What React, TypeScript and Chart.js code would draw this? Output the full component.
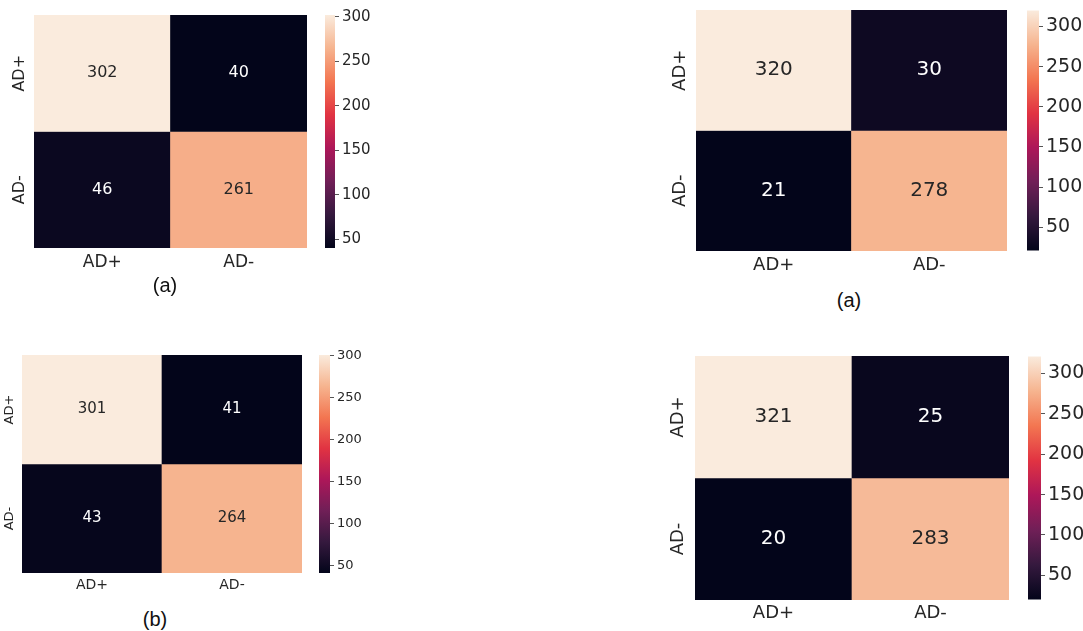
import React, { useEffect, useRef } from 'react';
import { Chart, registerables } from 'chart.js';

Chart.register(...registerables);

// Class names shared by rows (true) and columns (predicted)
const classLabels = ['AD+', 'AD-'];

// Confusion-matrix counts, one per panel: rows = true class, columns = predicted class
const countsTopLeft = [
  [302, 40],
  [46, 261],
];
const countsTopRight = [
  [320, 30],
  [21, 278],
];
const countsBottomLeft = [
  [301, 41],
  [43, 264],
];
const countsBottomRight = [
  [321, 25],
  [20, 283],
];

// Colour-bar tick values
const colorbarTicks = [50, 100, 150, 200, 250, 300];

// Panel captions
const captionTopLeft = '(a)';
const captionTopRight = '(a)';
const captionBottomLeft = '(b)';

const FONT = '"DejaVu Sans", "Noto Sans", sans-serif';
const TEXT_DARK = '#262626';
const PAGE_W = 1083;

// Anchor colours of the "rocket" sequential colormap (position, r, g, b)
const rocketStops: [number, number, number, number][] = [
  [0, 3, 5, 26],
  [1 / 7, 53, 25, 62],
  [2 / 7, 112, 31, 87],
  [3 / 7, 173, 23, 89],
  [4 / 7, 225, 51, 66],
  [5 / 7, 243, 118, 81],
  [6 / 7, 246, 180, 143],
  [1, 250, 235, 221],
];

function rocketRgb(t: number): [number, number, number] {
  const v = Math.max(0, Math.min(1, t));
  for (let i = 1; i < rocketStops.length; i++) {
    const [p1, r1, g1, b1] = rocketStops[i];
    const [p0, r0, g0, b0] = rocketStops[i - 1];
    if (v <= p1) {
      const f = (v - p0) / (p1 - p0);
      return [r0 + (r1 - r0) * f, g0 + (g1 - g0) * f, b0 + (b1 - b0) * f];
    }
  }
  const last = rocketStops[rocketStops.length - 1];
  return [last[1], last[2], last[3]];
}

const toCss = ([r, g, b]: [number, number, number]) =>
  `rgb(${Math.round(r)}, ${Math.round(g)}, ${Math.round(b)})`;

function luminance([r, g, b]: [number, number, number]) {
  const lin = (c: number) => {
    const s = c / 255;
    return s <= 0.03928 ? s / 12.92 : Math.pow((s + 0.055) / 1.055, 2.4);
  };
  return 0.2126 * lin(r) + 0.7152 * lin(g) + 0.0722 * lin(b);
}

type PanelLayout = {
  heat: { l: number; t: number; r: number; b: number };
  cb: { l: number; r: number };
  yLabelGap: number;
  xLabelGap: number;
  tickFont: number;
  yTickFont: number;
  annotFont: number;
  cbFont: number;
};

function HeatmapPanel({ counts, layout }: { counts: number[][]; layout: PanelLayout }) {
  const heatRef = useRef<HTMLCanvasElement>(null);
  const cbRef = useRef<HTMLCanvasElement>(null);

  const { heat, cb } = layout;
  const yAxisW = layout.yLabelGap + layout.yTickFont;
  const xAxisH = layout.xLabelGap + layout.tickFont;
  const heatBox = {
    left: heat.l - yAxisW,
    top: heat.t,
    width: heat.r - heat.l + yAxisW,
    height: heat.b - heat.t + xAxisH,
  };
  const cbPad = 14;
  const cbBox = {
    left: cb.l,
    top: heat.t - cbPad,
    width: Math.min(PAGE_W, cb.l + 62) - cb.l,
    height: heat.b - heat.t + 2 * cbPad,
  };

  useEffect(() => {
    const flat = counts.flat();
    const vmin = Math.min(...flat);
    const vmax = Math.max(...flat);
    const norm = (v: number) => (v - vmin) / (vmax - vmin);

    const datasets = counts.map((row, r) => ({
      label: classLabels[r],
      data: row.map(() => [r, r + 1]),
      backgroundColor: row.map((v) => toCss(rocketRgb(norm(v)))),
      borderWidth: 0,
      barPercentage: 1,
      categoryPercentage: 1,
      grouped: false,
    }));

    const cellText = {
      id: 'cellText',
      afterDatasetsDraw(chart: any) {
        const ctx = chart.ctx as CanvasRenderingContext2D;
        ctx.save();
        ctx.textAlign = 'center';
        ctx.textBaseline = 'middle';
        ctx.font = `${layout.annotFont}px ${FONT}`;
        counts.forEach((row, r) => {
          const meta = chart.getDatasetMeta(r);
          row.forEach((v, c) => {
            const el = meta.data[c] as any;
            const cy = (el.y + el.base) / 2;
            ctx.fillStyle = luminance(rocketRgb(norm(v))) > 0.408 ? TEXT_DARK : '#ffffff';
            ctx.fillText(String(v), el.x, cy);
          });
        });
        // row labels, rotated to read bottom-to-top
        const ys = chart.scales.y;
        ctx.font = `${layout.yTickFont}px ${FONT}`;
        ctx.fillStyle = TEXT_DARK;
        classLabels.forEach((lab, r) => {
          const py = ys.getPixelForValue(r + 0.5);
          ctx.save();
          ctx.translate(chart.chartArea.left - layout.yLabelGap, py);
          ctx.rotate(-Math.PI / 2);
          ctx.fillText(lab, 0, 0);
          ctx.restore();
        });
        ctx.restore();
      },
    };

    const heatChart = new Chart(heatRef.current as HTMLCanvasElement, {
      type: 'bar',
      data: { labels: classLabels, datasets: datasets as any },
      options: {
        animation: false,
        responsive: false,
        maintainAspectRatio: false,
        layout: { padding: 0 },
        plugins: { legend: { display: false }, tooltip: { enabled: false } },
        scales: {
          x: {
            type: 'category',
            offset: true,
            grid: { display: false, drawTicks: false },
            border: { display: false },
            ticks: {
              font: { family: FONT, size: layout.tickFont },
              color: TEXT_DARK,
              padding: layout.xLabelGap - 0.6 * layout.tickFont,
              maxRotation: 0,
            },
            afterFit: (s: any) => {
              s.height = xAxisH;
            },
          },
          y: {
            type: 'linear',
            min: 0,
            max: 2,
            reverse: true,
            grid: { display: false, drawTicks: false },
            border: { display: false },
            ticks: { display: false },
            afterFit: (s: any) => {
              s.width = yAxisW;
            },
          },
        },
      } as any,
      plugins: [cellText],
    });

    const cbWidth = cb.r - cb.l;
    const cbChart = new Chart(cbRef.current as HTMLCanvasElement, {
      type: 'bar',
      data: {
        labels: [''],
        datasets: [
          {
            data: [[vmin, vmax]] as any,
            borderWidth: 0,
            barPercentage: 1,
            categoryPercentage: 1,
            backgroundColor: (c: any) => {
              const chart = c.chart;
              const ys = chart.scales.y;
              const area = chart.chartArea;
              const fallback = toCss(rocketRgb(0.5));
              if (!ys || !area) return fallback;
              const y0 = ys.getPixelForValue(vmin);
              const y1 = ys.getPixelForValue(vmax);
              if (!Number.isFinite(y0) || !Number.isFinite(y1) || y0 === y1) return fallback;
              const g = chart.ctx.createLinearGradient(0, y0, 0, y1);
              rocketStops.forEach(([p, r, gg, b]) => g.addColorStop(p, `rgb(${r}, ${gg}, ${b})`));
              return g;
            },
          },
        ],
      },
      options: {
        animation: false,
        responsive: false,
        maintainAspectRatio: false,
        layout: { padding: { top: cbPad, bottom: cbPad, left: 0, right: 0 } },
        plugins: { legend: { display: false }, tooltip: { enabled: false } },
        scales: {
          x: { display: false },
          y: {
            type: 'linear',
            position: 'right',
            min: vmin,
            max: vmax,
            grid: { drawOnChartArea: false, drawTicks: true, tickLength: 4, color: '#555555', lineWidth: 1 },
            border: { display: false },
            ticks: {
              font: { family: FONT, size: layout.cbFont },
              color: TEXT_DARK,
              padding: 3,
            },
            afterBuildTicks: (s: any) => {
              s.ticks = colorbarTicks.map((v) => ({ value: v }));
            },
            afterFit: (s: any) => {
              s.width = cbBox.width - cbWidth;
            },
          },
        },
      } as any,
    });

    return () => {
      heatChart.destroy();
      cbChart.destroy();
    };
  }, [counts, layout]);

  const canvasStyle = (b: { left: number; top: number; width: number; height: number }) => ({
    position: 'absolute' as const,
    left: b.left,
    top: b.top,
    width: b.width,
    height: b.height,
  });

  return (
    <>
      <canvas ref={heatRef} width={heatBox.width} height={heatBox.height} style={canvasStyle(heatBox)} />
      <canvas ref={cbRef} width={cbBox.width} height={cbBox.height} style={canvasStyle(cbBox)} />
    </>
  );
}

function Caption({ text, x, y, size }: { text: string; x: number; y: number; size: number }) {
  return (
    <div
      style={{
        position: 'absolute',
        left: x,
        top: y,
        transform: 'translate(-50%, -50%)',
        fontFamily: '"Liberation Sans", Arial, sans-serif',
        fontSize: size,
        color: '#111111',
        whiteSpace: 'nowrap',
        lineHeight: 1,
      }}
    >
      {text}
    </div>
  );
}

const layoutTopLeft: PanelLayout = {
  heat: { l: 34, t: 15, r: 307, b: 248 },
  cb: { l: 325, r: 335 },
  yLabelGap: 14,
  xLabelGap: 15,
  tickFont: 17,
  yTickFont: 16,
  annotFont: 16,
  cbFont: 15,
};
const layoutTopRight: PanelLayout = {
  heat: { l: 696, t: 10, r: 1007, b: 251 },
  cb: { l: 1027, r: 1039 },
  yLabelGap: 16,
  xLabelGap: 14,
  tickFont: 18,
  yTickFont: 18,
  annotFont: 20,
  cbFont: 19,
};
const layoutBottomLeft: PanelLayout = {
  heat: { l: 22, t: 355, r: 302, b: 573 },
  cb: { l: 319, r: 330 },
  yLabelGap: 12,
  xLabelGap: 12,
  tickFont: 14,
  yTickFont: 13,
  annotFont: 15,
  cbFont: 13,
};
const layoutBottomRight: PanelLayout = {
  heat: { l: 695, t: 356, r: 1009, b: 600 },
  cb: { l: 1028, r: 1041 },
  yLabelGap: 17,
  xLabelGap: 13,
  tickFont: 18,
  yTickFont: 18,
  annotFont: 20,
  cbFont: 19,
};

export default function App() {
  return (
    <div
      style={{
        position: 'absolute',
        left: 0,
        top: 0,
        width: PAGE_W,
        height: 631,
        background: '#ffffff',
        overflow: 'hidden',
      }}
    >
      <HeatmapPanel counts={countsTopLeft} layout={layoutTopLeft} />
      <HeatmapPanel counts={countsTopRight} layout={layoutTopRight} />
      <HeatmapPanel counts={countsBottomLeft} layout={layoutBottomLeft} />
      <HeatmapPanel counts={countsBottomRight} layout={layoutBottomRight} />
      <Caption text={captionTopLeft} x={165} y={285} size={20} />
      <Caption text={captionTopRight} x={849} y={300} size={20} />
      <Caption text={captionBottomLeft} x={155} y={619} size={20} />
    </div>
  );
}
